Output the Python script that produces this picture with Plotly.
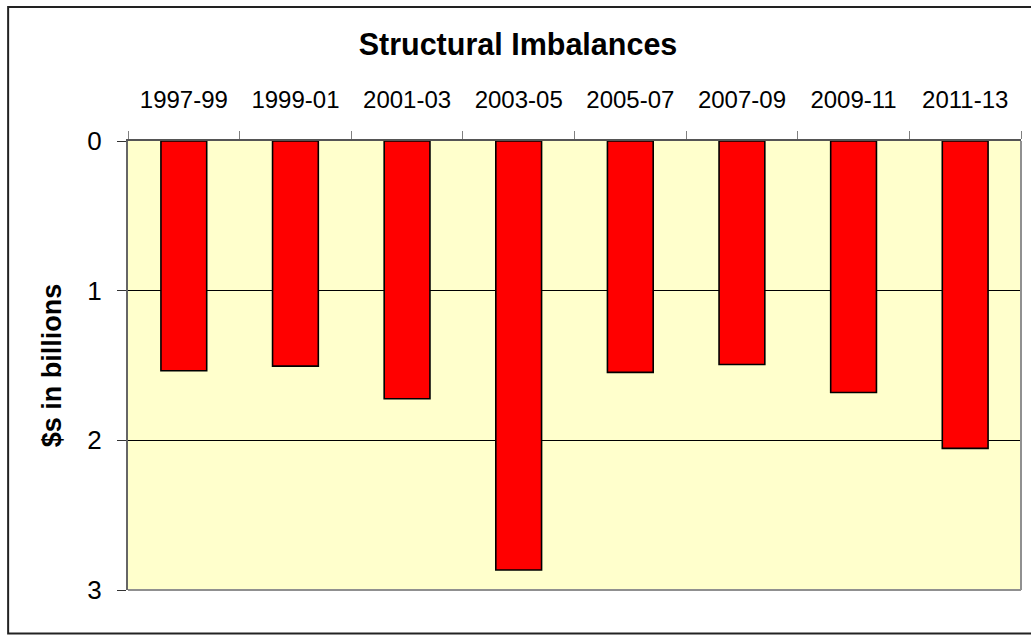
import plotly.graph_objects as go

categories = ["1997-99", "1999-01", "2001-03", "2003-05", "2005-07", "2007-09", "2009-11", "2011-13"]
values = [1.535, 1.504, 1.722, 2.866, 1.546, 1.493, 1.680, 2.054]
y_ticks = [0, 1, 2, 3]

FONT = "Arial, Liberation Sans, sans-serif"

fig = go.Figure()
fig.add_trace(go.Bar(
    x=categories, y=values,
    marker=dict(color="#FF0000", line=dict(color="#000000", width=1.6)),
    width=0.41,
))

W, H = 1031, 635
ml, mr, mt, mb = 127.5, 9.5, 140.7, 45
pw = W - ml - mr
ph = H - mt - mb

def px_to_paper_x(px):
    return (px - ml) / pw

def px_to_paper_y(py):
    return (H - mb - py) / ph

fig.update_layout(
    width=W, height=H,
    margin=dict(l=ml, r=mr, t=mt, b=mb, pad=0),
    paper_bgcolor="white",
    plot_bgcolor="#FFFFCC",
    showlegend=False,
    font=dict(family=FONT, color="black"),
    title=dict(text="<b>Structural Imbalances</b>", x=518 / W, xanchor="center",
               y=1 - 44.5 / H, yanchor="middle", font=dict(size=30.5, family=FONT, color="black")),
    xaxis=dict(
        side="top", type="category",
        tickson="boundaries", ticks="outside", ticklen=8, tickcolor="#808080",
        tickfont=dict(size=24, family=FONT, color="black"),
        ticklabelstandoff=22,
        showline=True, linecolor="#555555", linewidth=1.5,
        showgrid=False,
    ),
    yaxis=dict(
        range=[3, 0], tickvals=y_ticks,
        ticks="outside", ticklen=9, tickcolor="#333333",
        tickfont=dict(size=26, family=FONT, color="black"),
        ticklabelstandoff=10,
        showline=True, linecolor="#666666", linewidth=2,
        showgrid=True, gridcolor="#000000", gridwidth=1,
        zeroline=False,
        title=dict(text="<b>$s in billions</b>", font=dict(size=27, family=FONT, color="black"), standoff=18),
    ),
    shapes=[
        dict(type="line", xref="paper", yref="paper", x0=1, x1=1, y0=0, y1=1,
             line=dict(color="#909090", width=2)),
        dict(type="line", xref="paper", yref="paper", x0=0, x1=1, y0=0, y1=0,
             line=dict(color="#909090", width=2)),
        dict(type="rect", xref="paper", yref="paper", layer="above",
             x0=px_to_paper_x(7.5), x1=px_to_paper_x(1045),
             y0=px_to_paper_y(633.5), y1=px_to_paper_y(6.5),
             line=dict(color="#222222", width=2)),
    ],
)

fig.write_html("out.html",
               config={"displayModeBar": False},
               post_script="document.body.style.margin='0';document.body.style.overflow='hidden';")
